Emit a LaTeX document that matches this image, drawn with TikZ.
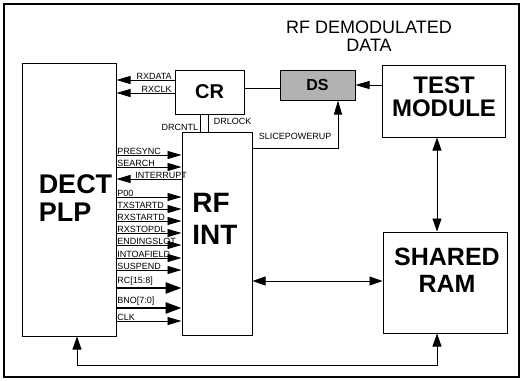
\documentclass[tikz,border=0pt]{standalone}
\usepackage{fontspec}
\setmainfont{Liberation Sans}
\usetikzlibrary{arrows.meta,positioning,calc}
\tikzset{
  blk/.style    = {draw,line width=1pt,inner sep=0pt,fill=white},
  bigtxt/.style = {font=\bfseries\fontsize{27}{28}\selectfont,align=left,inner sep=0pt},
  sigtxt/.style = {font=\fontsize{9}{9}\selectfont,inner sep=0.6pt,anchor=south west},
  sig/.style    = {-{Triangle[length=14pt,width=8pt]},line width=0.8pt},
  bus/.style    = {-{Triangle[length=16pt,width=11pt]},line width=2.6pt},
  link/.style   = {{Triangle[length=13pt,width=9pt]}-{Triangle[length=13pt,width=9pt]},
                   line width=0.9pt},
}

\begin{document}
\begin{tikzpicture}[x=1pt,y=-1pt]
  \useasboundingbox (0,0) rectangle (521,380);
  \draw[line width=1.8pt] (4,4) rectangle (519,377);

  % blocks
  \node[blk,minimum width=94,minimum height=273] (plp) at (69,199.5) {};
  \node[blk,minimum width=69,minimum height=44,
        font=\bfseries\fontsize{20}{20}\selectfont] (cr) at (209.5,92) {CR};
  \node[blk,minimum width=70,minimum height=203] (rfint) at (217,233.5) {};
  \node[blk,fill=gray!60,minimum width=75,minimum height=30,
        font=\bfseries\fontsize{16}{16}\selectfont] (ds) at (317.5,85) {DS};
  \node[blk,minimum width=123,minimum height=72] (test) at (443.5,101) {};
  \node[blk,minimum width=124,minimum height=101] (ram) at (445,282.5) {};

  \node[bigtxt] (plptxt) at (75.5,198.5) {DECT\\PLP};
  \node[bigtxt,font=\bfseries\fontsize{28}{32}\selectfont] (rftxt) at (215,219) {RF\\INT};
  \node[bigtxt,align=center,font=\bfseries\fontsize{24}{23}\selectfont]
        (testtxt) at (444,97) {TEST\\MODULE};
  \node[bigtxt,align=center,font=\bfseries\fontsize{25}{27}\selectfont]
        (ramtxt) at (447,270) {SHARED\\RAM};
  \node[align=center,inner sep=0pt,font=\fontsize{18}{18}\selectfont]
        (demod) at (369,36) {RF DEMODULATED\\DATA};

  % CR / DS side
  \draw[sig] (cr.west |- 0,80) -- (plp.east |- 0,80);
  \node[sigtxt,anchor=south east] (rxdata) at ($(cr.west |- 0,80)+(-2,0)$) {RXDATA};
  \draw[sig] (cr.west |- 0,93) -- (plp.east |- 0,93);
  \node[sigtxt,anchor=south east] (rxclk) at ($(cr.west |- 0,93)+(-2,0)$) {RXCLK};
  \draw[line width=0.9pt] (cr.east |- 0,88) -- (ds.west |- 0,88);
  \draw[sig] (test.west |- ds.east) -- (ds.east);
  \draw[line width=0.8pt] (cr.south -| 200,0) -- (rfint.north -| 200,0);
  \draw[line width=0.8pt] (cr.south -| 208,0) -- (rfint.north -| 208,0);
  \node[sigtxt,anchor=south east] (drcntl) at (199,131) {DRCNTL};
  \node[sigtxt] (drlock) at (213,125) {DRLOCK};
  \draw[sig] (rfint.east |- 0,148) -| (ds.south -| 338,0);
  \node[sigtxt] (slice) at (258,140) {SLICEPOWERUP};

  % PLP <-> RF INT signals
  \foreach \y/\nm in {155/PRESYNC,167/SEARCH,197/P00,209/TXSTARTD,221/RXSTARTD,
                      233/RXSTOPDL,245/ENDINGSLOT,258/INTOAFIELD,270/SUSPEND,321/CLK}{
    \draw[sig] (plp.east |- 0,\y) -- (rfint.west |- 0,\y);
    \node[sigtxt] (lbl\y) at (plp.east |- 0,\y) {\nm};
  }
  \draw[sig] (rfint.west |- 0,179) -- (plp.east |- 0,179);
  \node[sigtxt,xshift=18pt] (intr) at (plp.east |- 0,179) {INTERRUPT};
  \draw[bus] (plp.east |- 0,288) -- (rfint.west |- 0,288);
  \node[sigtxt] (rc) at (plp.east |- 0,286.5) {RC[15:8]};
  \draw[bus] (plp.east |- 0,308) -- (rfint.west |- 0,308);
  \node[sigtxt] (bno) at (plp.east |- 0,306.5) {BNO[7:0]};

  % memory links
  \draw[link] (rfint.east |- 0,281) -- (ram.west |- 0,281);
  \draw[link] (test.south -| 437,0) -- (ram.north -| 437,0);
  \draw[link] (plp.south -| 77,0) -- (77,365) -| (ram.south -| 437,0);
\end{tikzpicture}
\end{document}
